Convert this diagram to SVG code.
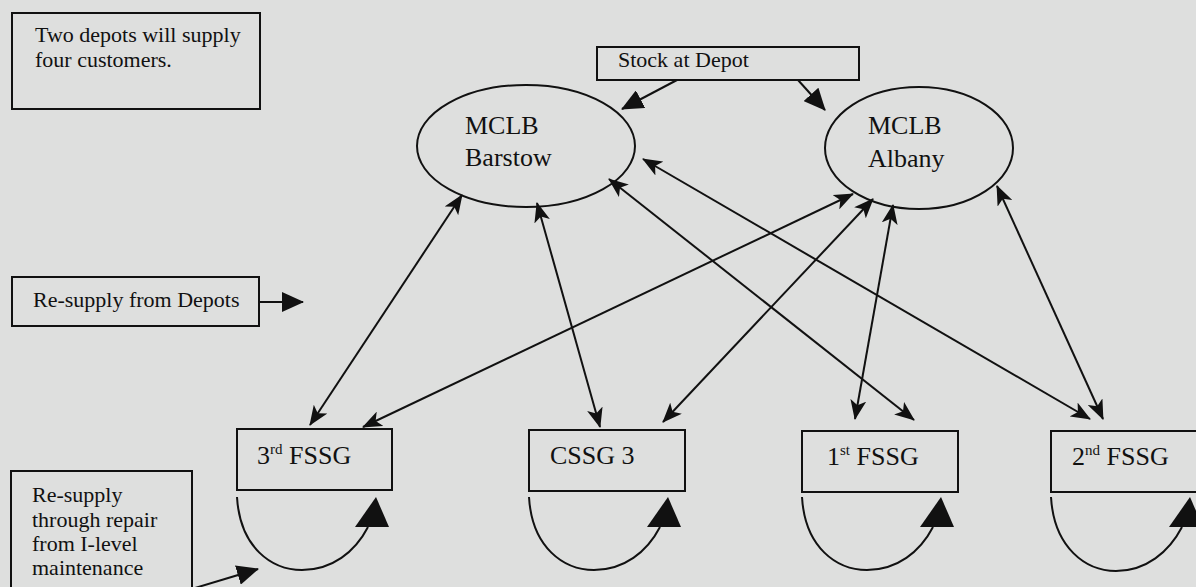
<svg xmlns="http://www.w3.org/2000/svg" width="1196" height="587" viewBox="0 0 1196 587">
<defs>
<style>
.bg{fill:#dedfde}
.box{fill:none;stroke:#111;stroke-width:2}
.ell{fill:none;stroke:#111;stroke-width:2}
.t{font-family:"Liberation Serif","Times New Roman",serif;font-size:22px;fill:#111}
.tn{font-family:"Liberation Serif","Times New Roman",serif;font-size:26px;fill:#111}
.sup{font-size:15px}
.ln{stroke:#111;stroke-width:2;fill:none}
.dbl{marker-start:url(#ah);marker-end:url(#ah)}
.one{marker-end:url(#ahL)}
.head{fill:#111}
</style>
<marker id="ah" viewBox="0 0 20 16" refX="19" refY="8" markerWidth="20" markerHeight="16" markerUnits="userSpaceOnUse" orient="auto-start-reverse">
<path d="M0,0 L20,8 L0,16 L5,8 Z" fill="#111"/>
</marker>
<marker id="ahL" viewBox="0 0 22 20" refX="21" refY="10" markerWidth="22" markerHeight="20" markerUnits="userSpaceOnUse" orient="auto">
<path d="M0,0 L22,10 L0,20 Z" fill="#111"/>
</marker>
</defs>
<rect class="bg" x="0" y="0" width="1196" height="587"/>

<g id="note-two-depots">
<rect class="box" x="12" y="13" width="248" height="96"/>
<text class="t" x="35" y="42">Two depots will supply</text>
<text class="t" x="35" y="67">four customers.</text>
</g>

<g id="note-stock">
<rect class="box" x="597" y="47" width="262" height="33"/>
<text class="t" x="618" y="67">Stock at Depot</text>
</g>

<g id="note-resupply-depots">
<rect class="box" x="12" y="277" width="247" height="49"/>
<text class="t" x="33" y="307">Re-supply from Depots</text>
</g>

<g id="note-resupply-repair">
<rect class="box" x="11" y="471" width="181" height="130"/>
<text class="t" x="32" y="502">Re-supply</text>
<text class="t" x="32" y="527">through repair</text>
<text class="t" x="32" y="551">from I-level</text>
<text class="t" x="32" y="575">maintenance</text>
</g>

<g id="barstow">
<ellipse class="ell" cx="526" cy="146" rx="109" ry="61"/>
<text class="tn" x="465" y="134">MCLB</text>
<text class="tn" x="465" y="166">Barstow</text>
</g>

<g id="albany">
<ellipse class="ell" cx="919" cy="148" rx="94" ry="61"/>
<text class="tn" x="868" y="134">MCLB</text>
<text class="tn" x="868" y="167">Albany</text>
</g>

<g id="fssg3">
<rect class="box" x="237" y="429" width="155" height="61"/>
<text class="tn" x="257" y="464">3<tspan class="sup" dy="-10">rd</tspan><tspan dy="10"> FSSG</tspan></text>
</g>

<g id="cssg3">
<rect class="box" x="529" y="430" width="156" height="61"/>
<text class="tn" x="550" y="464">CSSG 3</text>
</g>

<g id="fssg1">
<rect class="box" x="802" y="431" width="156" height="61"/>
<text class="tn" x="827" y="465">1<tspan class="sup" dy="-10">st</tspan><tspan dy="10"> FSSG</tspan></text>
</g>

<g id="fssg2">
<rect class="box" x="1051" y="431" width="160" height="61"/>
<text class="tn" x="1072" y="465">2<tspan class="sup" dy="-10">nd</tspan><tspan dy="10"> FSSG</tspan></text>
</g>

<g id="connectors">
<line class="ln one" x1="677" y1="80" x2="622" y2="109"/>
<line class="ln one" x1="798" y1="80" x2="825" y2="110"/>
<line class="ln one" x1="259" y1="302" x2="303" y2="302"/>
<line class="ln one" x1="195" y1="588" x2="258" y2="569"/>

<line class="ln dbl" x1="462" y1="195" x2="310" y2="425"/>
<line class="ln dbl" x1="537" y1="203" x2="600" y2="427"/>
<line class="ln dbl" x1="853" y1="194" x2="363" y2="427"/>
<line class="ln dbl" x1="873" y1="199" x2="663" y2="422"/>
<line class="ln dbl" x1="609" y1="179" x2="914" y2="420"/>
<line class="ln dbl" x1="643" y1="159" x2="1090" y2="419"/>
<line class="ln dbl" x1="893" y1="205" x2="855" y2="419"/>
<line class="ln dbl" x1="997" y1="186" x2="1103" y2="419"/>

<path class="ln" d="M237,497 C240,548 272,570 302,570 C332,570 355,552 368,527"/>
<polygon class="head" points="376,497 355,527 389,527"/>
<path class="ln" d="M529,497 C532,548 564,570 594,570 C624,570 647,552 660,527"/>
<polygon class="head" points="668,497 647,527 681,527"/>
<path class="ln" d="M802,497 C805,548 837,570 867,570 C897,570 920,552 933,527"/>
<polygon class="head" points="941,497 920,527 954,527"/>
<path class="ln" d="M1051,497 C1054,548 1086,571 1116,571 C1146,571 1169,552 1182,527"/>
<polygon class="head" points="1190,497 1169,527 1203,527"/>
</g>
</svg>
